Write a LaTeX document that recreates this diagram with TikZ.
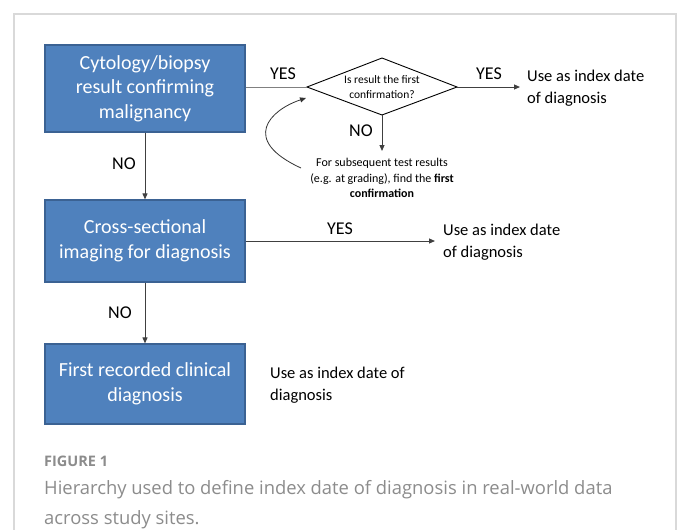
\documentclass[tikz,border=0pt]{standalone}
\usepackage{fontspec}
\setmainfont{Carlito}
\newfontfamily\capfont{Open Sans}
\usetikzlibrary{arrows.meta}
\definecolor{boxfill}{HTML}{4F81BD}
\definecolor{boxline}{HTML}{3B6293}
\definecolor{frameg}{HTML}{D9D9D9}
\definecolor{capg}{HTML}{8C8C8C}
\definecolor{lineg}{HTML}{808080}
\tikzset{
  x=1pt, y=-1pt,
  bluebox/.style={draw=boxline, line width=1.2pt, fill=boxfill, text=white, minimum width=200pt, align=center, font=\fontsize{20}{24.5}\selectfont, inner sep=0pt},
  conn/.style={draw=lineg, line width=1pt},
  arr/.style={conn, -{Triangle[length=6pt,width=5pt]}, draw=black!75},
  lbl/.style={font=\fontsize{18}{22}\selectfont, inner sep=0pt},
  note/.style={font=\fontsize{16.5}{21.5}\selectfont, align=left, inner sep=0pt, anchor=west},
  small/.style={font=\fontsize{12}{15.5}\selectfont, align=center, inner sep=0pt}
}
\begin{document}
\begin{tikzpicture}
\useasboundingbox (0,0) rectangle (678,530);
\fill[white] (0,0) rectangle (678,530);
\draw[frameg, line width=1.2pt] (14,535) -- (14,14) -- (676,14) -- (676,535);

\node[bluebox, minimum height=87pt] (b1) at (145,88.5) {Cytology/biopsy\\result confirming\\malignancy};
\node[bluebox, minimum height=82pt] (b2) at (145,241) {Cross-sectional\\imaging for diagnosis};
\node[bluebox, minimum height=80pt] (b3) at (145,384) {First recorded clinical\\diagnosis};

\coordinate (dl) at (307,87);
\coordinate (dt) at (382,58);
\coordinate (dr) at (457,87);
\coordinate (db) at (382,115);
\draw[black, line width=0.9pt] (dl) -- (dt) -- (dr) -- (db) -- cycle;
\node[small, font=\fontsize{11.5}{15.5}\selectfont] (dq) at (382,87) {Is result the first\\confirmation?};

\draw[conn] (b1.east |- dl) -- (dl);
\node[lbl] (y1) at (283,74) {YES};
\coordinate (e1) at (520,87);
\draw[arr] (dr) -- (e1);
\node[lbl] (y2) at (489,74) {YES};
\node[note] (u1) at (527,88) {Use as index date\\of diagnosis};

\coordinate (n1) at (382,151);
\draw[arr] (db) -- (n1);
\node[lbl] (no1) at (361,131) {NO};
\node[small] (sub) at (382,178) {For subsequent test results\\(e.g. at grading), find the \textbf{first}\\\textbf{confirmation}};
\coordinate (cs) at (301,168);
\coordinate (ce) at (306,98);
\draw[arr, draw=black!80, line width=0.8pt] (cs) .. controls (240,140) and (270,110) .. (ce);

\draw[arr] (b1.south) -- (b2.north);
\node[lbl] (no2) at (124,164) {NO};

\coordinate (e2) at (435,241);
\draw[arr] (b2.east) -- (e2);
\node[lbl] (y3) at (340,229) {YES};
\node[note] (u2) at (443,242) {Use as index date\\of diagnosis};

\draw[arr] (b2.south) -- (b3.north);
\node[lbl] (no3) at (120,313) {NO};

\node[note] (u3) at (270,385) {Use as index date of\\diagnosis};

\node[anchor=west, inner sep=0pt, text=capg, font=\capfont\bfseries\fontsize{14.5}{16}\selectfont] (fig) at (44,461) {FIGURE 1};
\node[anchor=north west, inner sep=0pt, text=capg, align=left, font=\capfont\fontsize{18.4}{30}\selectfont] (cap) at (44,480) {Hierarchy used to define index date of diagnosis in real-world data\\across study sites.};
\end{tikzpicture}
\end{document}
